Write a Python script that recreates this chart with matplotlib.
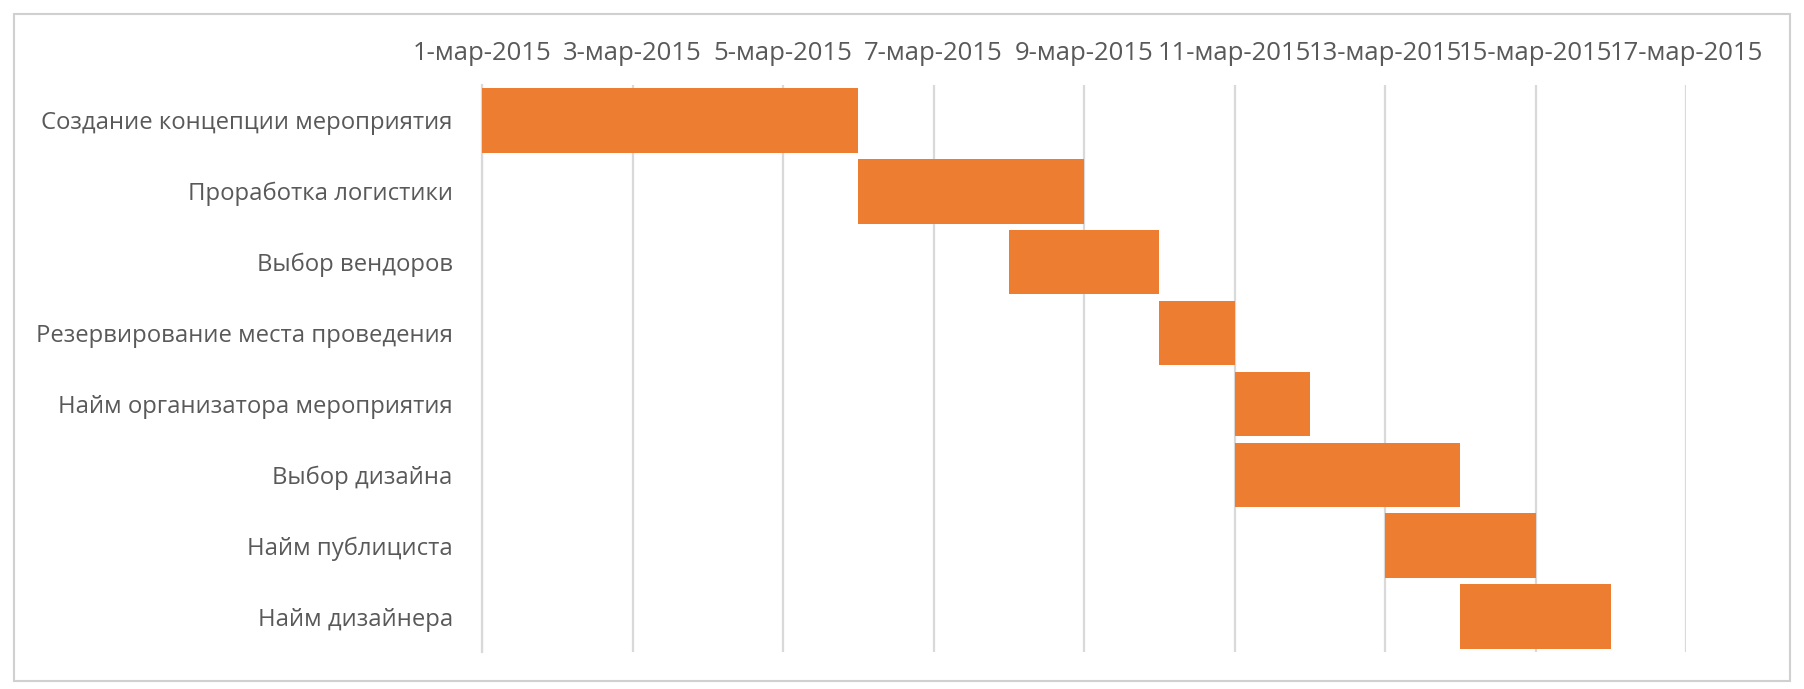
import numpy as np
import pandas as pd
import matplotlib
matplotlib.use("Agg")
import matplotlib.pyplot as plt
import matplotlib.dates as mdates
from matplotlib.patches import Rectangle
from matplotlib.ticker import FuncFormatter

tasks = ["Создание концепции мероприятия", "Проработка логистики", "Выбор вендоров",
         "Резервирование места проведения", "Найм организатора мероприятия",
         "Выбор дизайна", "Найм публициста", "Найм дизайнера"]
starts = ["2015-03-01", "2015-03-06", "2015-03-08", "2015-03-10",
          "2015-03-11", "2015-03-11", "2015-03-13", "2015-03-14"]
durations = [5, 3, 2, 1, 1, 3, 2, 2]
axis_start = "2015-03-01"
axis_end = "2015-03-17"

plt.rcParams['font.family'] = ['Open Sans', 'DejaVu Sans']
txt = '#595959'

fig = plt.figure(figsize=(18.04, 6.89), dpi=100)
ax = fig.add_axes([482/1804, 1-652/689, (1686-482)/1804, (652-85)/689])

left = mdates.date2num(pd.to_datetime(starts))
ax.barh(np.arange(len(tasks)), durations, left=left, height=0.91, color='#ED7D31', zorder=3)

ax.set_xlim(mdates.date2num(pd.Timestamp(axis_start)), mdates.date2num(pd.Timestamp(axis_end)))
ax.set_ylim(len(tasks) - 0.5, -0.5)
ax.set_yticks(np.arange(len(tasks)))
ax.set_yticklabels(tasks)

ax.xaxis.set_major_locator(mdates.DayLocator(interval=2))
ax.xaxis.set_major_formatter(FuncFormatter(
    lambda v, p: f"{mdates.num2date(v).day}-мар-{mdates.num2date(v).year}"))
ax.xaxis.tick_top()
ax.tick_params(axis='x', length=0, pad=14, labelsize=18.5, labelcolor=txt)
ax.tick_params(axis='y', length=0, pad=21, labelsize=17.2, labelcolor=txt)
ax.grid(axis='x', color='#D9D9D9', linewidth=1.6, zorder=0)
for s in ['top', 'right', 'bottom']:
    ax.spines[s].set_visible(False)
ax.spines['left'].set_color('#D9D9D9')
ax.spines['left'].set_linewidth(1.6)

# chart frame
fig.patches.append(Rectangle((14/1804, 1-681/689), (1790-14)/1804, (681-14)/689,
                             transform=fig.transFigure, fill=False,
                             edgecolor='#D0D0D0', linewidth=1.5))

fig.savefig("out.png", dpi=100, facecolor='white')
